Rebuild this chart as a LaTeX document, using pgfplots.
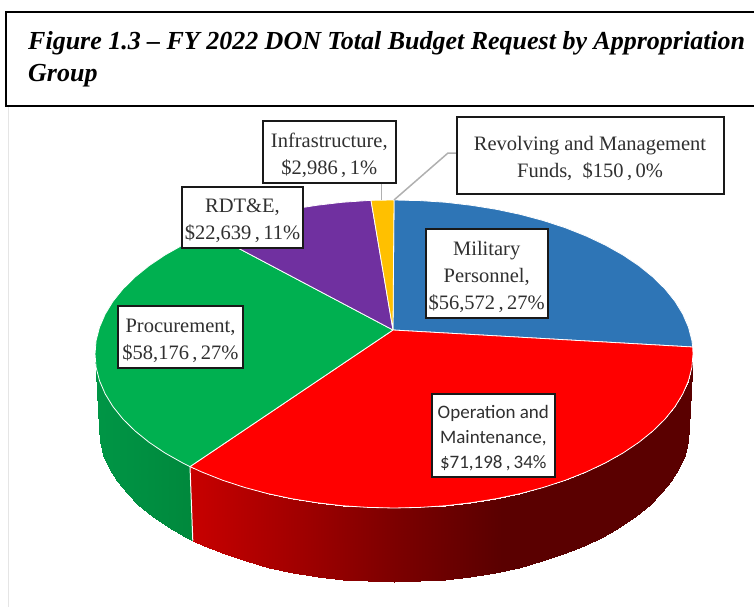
\documentclass[border=0pt]{standalone}
\usepackage{fontspec}
\setmainfont{Liberation Serif}
\newfontfamily\calib{Carlito}
\usepackage{pgfplots}
\pgfplotsset{compat=1.18}
\definecolor{cblue}{HTML}{2E75B6}
\definecolor{cred}{HTML}{FF0000}
\definecolor{cgreen}{HTML}{00B050}
\definecolor{cpurple}{HTML}{7030A0}
\definecolor{cyellow}{HTML}{FFC000}
\definecolor{ctxt}{HTML}{303030}
\definecolor{cleader}{HTML}{B0B0B0}
\pgfplotsset{
 colormap={wallred}{rgb255(0cm)=(200,0,0); rgb255(11cm)=(160,0,0); rgb255(21cm)=(122,0,0); rgb255(31cm)=(90,0,0); rgb255(50cm)=(90,0,0)},
 colormap={wallgreen}{rgb255(0cm)=(0,150,70); rgb255(1cm)=(0,136,60)},
}
\tikzset{lab/.style={draw=black!90,line width=2pt,fill=white,text=ctxt,align=center,inner sep=0pt,
   font=\fontsize{20.5}{27}\selectfont},
   labt/.style={text=ctxt,align=center,inner sep=0pt,font=\fontsize{20.5}{27}\selectfont}}
\begin{document}
\begin{tikzpicture}
\begin{axis}[
  scale only axis,width=754pt,height=607pt,
  xmin=0,xmax=754,ymin=0,ymax=607,zmin=-1,zmax=1,
  y dir=reverse,view={0}{90},hide axis,clip=true]

% wall, green
\addplot3[surf,shader=interp,colormap name=wallgreen,point meta=x,point meta rel=per plot,mesh/rows=2] table[row sep=\\]{
x y z\\
95 354 0\\ 96.1 367.4 0\\ 99.5 380.7 0\\ 105.2 393.9 0\\ 113 406.7 0\\ 123 419.1 0\\ 135.1 431 0\\ 149.1 442.3 0\\ 165 453 0\\ 182.6 462.9 0\\ 190 466.6 0\\
99 428 0\\ 100.1 441.4 0\\ 103.5 454.7 0\\ 109.1 467.9 0\\ 116.8 480.7 0\\ 126.6 493.1 0\\ 138.5 505 0\\ 152.3 516.3 0\\ 168 527 0\\ 185.4 536.9 0\\ 192.8 540.6 0\\
};
% wall, red
\addplot3[surf,shader=interp,colormap name=wallred,point meta=x,point meta rel=per plot,mesh/rows=2] table[row sep=\\]{
x y z\\
190 466.6 0\\ 201.8 472 0\\ 222.5 480.2 0\\ 244.5 487.4 0\\ 267.6 493.6 0\\ 291.7 498.7 0\\ 316.6 502.7 0\\ 342.1 505.7 0\\ 367.9 507.4 0\\ 394 508 0\\ 420.1 507.4 0\\ 445.9 505.7 0\\ 471.4 502.7 0\\ 496.3 498.7 0\\ 520.4 493.6 0\\ 543.5 487.4 0\\ 565.5 480.2 0\\ 586.2 472 0\\ 605.4 462.9 0\\ 623 453 0\\ 638.9 442.3 0\\ 652.9 431 0\\ 665 419.1 0\\ 675 406.7 0\\ 682.8 393.9 0\\ 688.5 380.7 0\\ 691.9 367.4 0\\ 693 354 0\\
192.8 540.6 0\\ 204.4 546 0\\ 224.8 554.2 0\\ 246.5 561.4 0\\ 269.3 567.6 0\\ 293.1 572.7 0\\ 317.7 576.7 0\\ 342.8 579.7 0\\ 368.3 581.4 0\\ 394 582 0\\ 419.7 581.4 0\\ 445.2 579.7 0\\ 470.3 576.7 0\\ 494.9 572.7 0\\ 518.7 567.6 0\\ 541.5 561.4 0\\ 563.2 554.2 0\\ 583.6 546 0\\ 602.6 536.9 0\\ 620 527 0\\ 635.7 516.3 0\\ 649.5 505 0\\ 661.4 493.1 0\\ 671.2 480.7 0\\ 678.9 467.9 0\\ 684.5 454.7 0\\ 687.9 441.4 0\\ 689 428 0\\
};
\addplot[white,line width=1pt,forget plot] coordinates {(190,466.6) (192.8,540.6)};

% top, military personnel
\addplot[fill=cblue,draw=white,line width=0.8pt,line join=round] coordinates {
(393,330) (692.7,347) (691.9,340.6) (688.5,327.3) (682.8,314.1) (675,301.3) (665,288.9) (652.9,277) (638.9,265.7) (623,255) (605.4,245.1) (586.2,236) (565.5,227.8) (543.5,220.6) (520.4,214.4) (496.3,209.3) (471.4,205.3) (445.9,202.3) (420.1,200.6) (394,200) (393,330)};
% operation and maintenance
\addplot[fill=cred,draw=white,line width=0.8pt,line join=round] coordinates {
(393,330) (190,466.6) (201.8,472) (222.5,480.2) (244.5,487.4) (267.6,493.6) (291.7,498.7) (316.6,502.7) (342.1,505.7) (367.9,507.4) (394,508) (420.1,507.4) (445.9,505.7) (471.4,502.7) (496.3,498.7) (520.4,493.6) (543.5,487.4) (565.5,480.2) (586.2,472) (605.4,462.9) (623,453) (638.9,442.3) (652.9,431) (665,419.1) (675,406.7) (682.8,393.9) (688.5,380.7) (691.9,367.4) (693,354) (692.7,347) (393,330)};
% procurement
\addplot[fill=cgreen,draw=white,line width=0.8pt,line join=round] coordinates {
(393,330) (209.4,232.9) (201.8,236) (182.6,245.1) (165,255) (149.1,265.7) (135.1,277) (123,288.9) (113,301.3) (105.2,314.1) (99.5,327.3) (96.1,340.6) (95,354) (96.1,367.4) (99.5,380.7) (105.2,393.9) (113,406.7) (123,419.1) (135.1,431) (149.1,442.3) (165,453) (182.6,462.9) (190,466.6) (393,330)};
% RDT&E
\addplot[fill=cpurple,draw=white,line width=0.8pt,line join=round] coordinates {
(393,330) (371,200.3) (342.1,202.3) (316.6,205.3) (291.7,209.3) (267.6,214.4) (244.5,220.6) (222.5,227.8) (209.4,232.9) (393,330)};
% infrastructure
\addplot[fill=cyellow,draw=white,line width=0.8pt,line join=round] coordinates {
(393,330) (394,200) (371,200.3) (393,330)};

% leaders
\addplot[cleader,line width=1.5pt] coordinates {(381.7,183) (381.7,200)};
\addplot[cleader,line width=1.5pt] coordinates {(394,200) (448,153) (457,153)};

% faint page edge
\addplot[black!10,line width=1pt] coordinates {(8,106) (8,607)};

% label boxes
\node[lab,minimum width=133pt,minimum height=62pt] at (axis cs:329.3,151.7,0) {};
\node[lab,minimum width=267pt,minimum height=77pt] at (axis cs:590,155.3,0) {};
\node[lab,minimum width=121.6pt,minimum height=61pt] at (axis cs:242.5,217.2,0) {};
\node[lab,minimum width=122pt,minimum height=89pt] at (axis cs:486.7,273.8,0) {};
\node[lab,minimum width=125.6pt,minimum height=62.6pt] at (axis cs:180.5,337,0) {};
\node[lab,minimum width=123.3pt,minimum height=82.4pt] at (axis cs:493.3,435.5,0) {};
% label texts
\node[labt] at (axis cs:329.3,155.2,0) {Infrastructure,\\\$2,986\,,\,1\%};
\node[labt] at (axis cs:590,158.3,0) {Revolving and Management\\Funds,\ \ \$150\,,\,0\%};
\node[labt] at (axis cs:242.5,221.2,0) {RDT\&E,\\\$22,639\,,\,11\%};
\node[labt] at (axis cs:486.7,276.8,0) {Military\\Personnel,\\\$56,572\,,\,27\%};
\node[labt] at (axis cs:180.5,340.5,0) {Procurement,\\\$58,176\,,\,27\%};
\node[labt,font=\calib\fontsize{19}{25}\selectfont] at (axis cs:493.3,438.5,0) {Operation and\\Maintenance,\\\$71,198\,,\,34\%};

% title box
\addplot[black,line width=2pt] coordinates {(760,12) (5.5,12) (5.5,106) (760,106)};
\node[anchor=base west,inner sep=0pt,font=\fontsize{26}{30}\selectfont\bfseries\itshape] at (axis cs:28,50,0) {\makebox[717pt][s]{Figure 1.3 – FY 2022 DON Total Budget Request by Appropriation}};
\node[anchor=base west,inner sep=0pt,font=\fontsize{26}{30}\selectfont\bfseries\itshape] at (axis cs:28,82,0) {Group};
\coordinate (tl) at (axis cs:0,0,0);
\coordinate (br) at (axis cs:754,607,0);
\end{axis}
\pgfresetboundingbox
\path[use as bounding box] (tl) rectangle (br);
\end{tikzpicture}
\end{document}
